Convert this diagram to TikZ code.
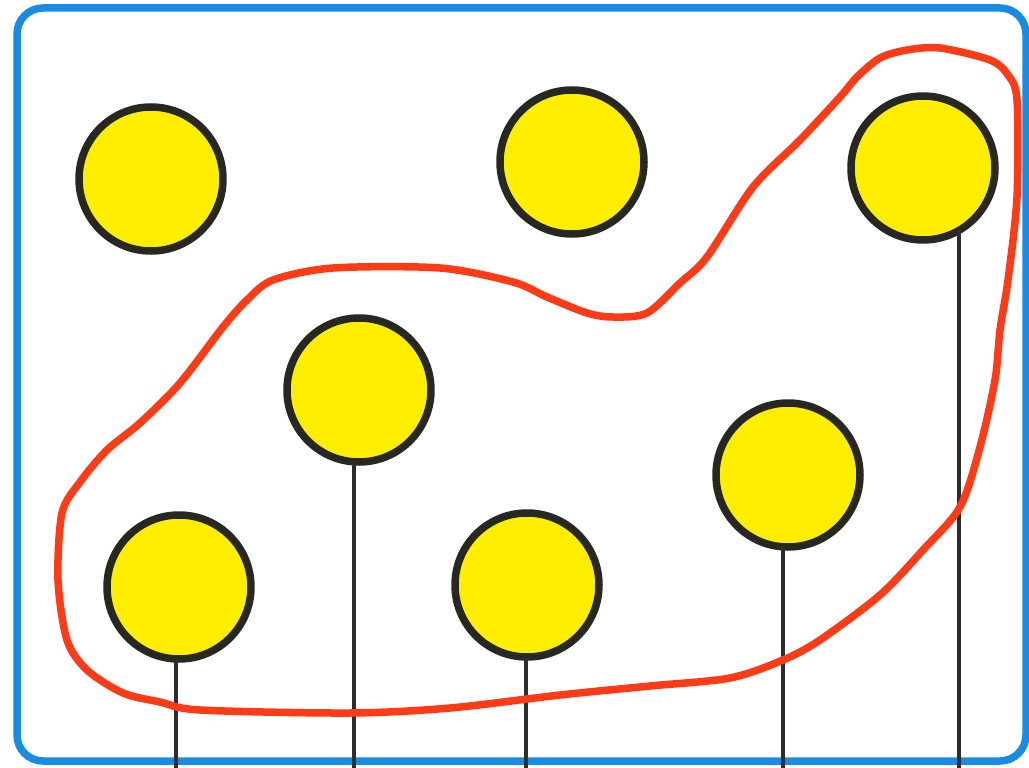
\documentclass[tikz,border=0pt]{standalone}
\usetikzlibrary{shapes.geometric}
\definecolor{frameblue}{RGB}{24,140,226}
\definecolor{ballyellow}{RGB}{255,238,0}
\definecolor{balledge}{RGB}{40,40,34}
\definecolor{setred}{RGB}{255,58,22}
\definecolor{stemgray}{RGB}{45,45,45}
\tikzset{
  ball/.style={circle, fill=ballyellow, draw=balledge, line width=7.5pt, minimum size=144pt, inner sep=0pt, outer sep=0pt},
  stem/.style={draw=stemgray, line width=4pt},
  frame/.style={draw=frameblue, line width=7.5pt, rounded corners=26pt},
  setline/.style={draw=setred, line width=7.5pt, line join=round}
}
\begin{document}
\begin{tikzpicture}[x=1pt,y=-1pt]
\useasboundingbox (0,0) rectangle (1029,768);
\fill[white] (0,0) rectangle (1029,768);
\draw[frame] (17,8) rectangle (1026,761);
\coordinate (bot) at (0,768);
% nodes
\node[ball] (c1) at (151,179) {};
\node[ball] (c2) at (572,162) {};
\node[ball] (c3) at (923,168) {};
\node[ball] (c4) at (359,390) {};
\node[ball] (c5) at (788,475) {};
\node[ball] (c6) at (179,587) {};
\node[ball] (c7) at (527,585) {};
% stems
\draw[stem] (c6.-92) -- (c6.-92 |- bot);
\draw[stem] (c4.-94) -- (c4.-94 |- bot);
\draw[stem] (c7.-91) -- (c7.-91 |- bot);
\draw[stem] (c5.-94) -- (c5.-94 |- bot);
\draw[stem] (c3.-60) -- (c3.-60 |- bot);
% red set outline
\draw[setline] plot[smooth cycle, tension=0.5] coordinates {
 (940,48) (990,60) (1008,75) (1017,100) (1017,197) (1008,280) (1000,330)
 (995,380) (980,447) (960,507) (923,550) (880,595) (820,640) (783,660)
 (730,678) (650,686) (560,695) (450,708) (350,713) (200,710) (160,702)
 (123,693) (87,670) (67,640) (58,580) (62,513) (80,482) (107,450)
 (140,423) (180,383) (223,327) (247,300) (273,280) (333,268) (440,268)
 (513,282) (547,297) (587,313) (613,317) (647,313) (680,283) (707,257)
 (753,187) (800,140) (840,97) (857,77) (880,58) (907,50)};
\end{tikzpicture}
\end{document}
